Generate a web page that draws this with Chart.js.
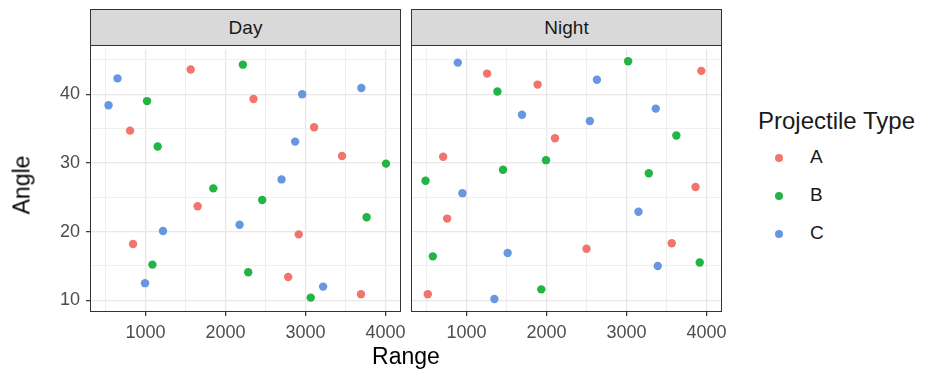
<!DOCTYPE html>
<html>
<head>
<meta charset="utf-8">
<script src="https://cdn.jsdelivr.net/npm/chart.js@4/dist/chart.umd.min.js"></script>
<style>
  body { margin: 0; background: #fff; font-family: "Liberation Sans", Arial, sans-serif; }
  #wrap { position: relative; width: 928px; height: 370px; overflow: hidden; }
  canvas { position: absolute; }
  .strip { position: absolute; top: 9px; height: 35px; background: #d9d9d9; border: 1px solid #333;
           display: flex; align-items: center; justify-content: center; font-size: 19px; color: #1a1a1a; box-sizing: content-box; }
  .frame { position: absolute; top: 45px; height: 265px; border: 1px solid #333; pointer-events: none; }
  .title { position: absolute; color: #000; font-size: 23px; white-space: nowrap; }
  #legend { position: absolute; left: 758px; top: 107px; }
  #legend .head { font-size: 24px; color: #1a1a1a; }
  #legend .item { position: relative; height: 38px; font-size: 19px; color: #1a1a1a; }
  #legend .dot { position: absolute; left: 17px; top: 9px; width: 8px; height: 8px; border-radius: 50%; }
  #legend .lab { position: absolute; left: 52px; top: 1px; }
</style>
</head>
<body>
<div id="wrap">
  <canvas id="day" width="420" height="325" style="left:0px;top:45px;width:420px;height:325px"></canvas>
  <canvas id="night" width="340" height="325" style="left:400px;top:45px;width:340px;height:325px"></canvas>
  <div class="strip" style="left:90px;width:309px">Day</div>
  <div class="strip" style="left:411px;width:309px">Night</div>
  <div class="frame" style="left:90px;width:309px"></div>
  <div class="frame" style="left:411px;width:309px"></div>
  <div class="title" style="left:22px;top:185px;transform:translate(-50%,-50%) rotate(-90deg)">Angle</div>
  <div class="title" style="left:406px;top:356px;transform:translate(-50%,-50%)">Range</div>
  <div id="legend"></div>
</div>
<script>
// values
var typeNames = ['A', 'B', 'C'];
var typeColors = ['#f1756c', '#22b444', '#6797e0'];

var dayRangeA = [1565, 2350, 808, 3107, 3456, 1652, 845, 2915, 2783, 3693];
var dayAngleA = [43.6, 39.3, 34.7, 35.2, 31.0, 23.7, 18.2, 19.6, 13.4, 10.9];
var dayRangeB = [2217, 1020, 1153, 1848, 2459, 4005, 3763, 1087, 2284, 3065];
var dayAngleB = [44.3, 39.0, 32.4, 26.3, 24.6, 29.9, 22.1, 15.2, 14.1, 10.4];
var dayRangeC = [651, 539, 1219, 995, 2176, 2700, 2870, 2958, 3219, 3697];
var dayAngleC = [42.3, 38.4, 20.1, 12.5, 21.0, 27.6, 33.1, 40.0, 12.0, 40.9];

var nightRangeA = [1258, 1889, 3934, 2106, 709, 3862, 759, 2500, 3565, 517];
var nightAngleA = [43.0, 41.4, 43.4, 33.6, 30.9, 26.5, 21.9, 17.5, 18.3, 10.9];
var nightRangeB = [3020, 1387, 3622, 1994, 1457, 3278, 489, 580, 1935, 3914];
var nightAngleB = [44.8, 40.4, 34.0, 30.4, 29.0, 28.5, 27.4, 16.4, 11.6, 15.5];
var nightRangeC = [892, 2630, 1694, 2542, 3365, 950, 3149, 1515, 3390, 1349];
var nightAngleC = [44.6, 42.1, 37.0, 36.1, 37.9, 25.6, 22.9, 16.9, 15.0, 10.2];

var xTicks = [1000, 2000, 3000, 4000];
var xMinor = [500, 1500, 2500, 3500];
var yTicks = [10, 20, 30, 40];
var yMinor = [15, 25, 35, 45];
var xMin = 320, xMax = 4180;
var yMin = 8.45, yMax = 46.55;

function pts(xs, ys) {
  var out = [];
  for (let i = 0; i < xs.length; i++) out.push({x: xs[i], y: ys[i]});
  return out;
}

function sets(ranges, angles) {
  return typeNames.map(function (t, i) {
    return {
      label: t,
      data: pts(ranges[i], angles[i]),
      backgroundColor: typeColors[i],
      borderWidth: 0,
      pointRadius: 4.2,
      pointHoverRadius: 4.2
    };
  });
}

function isMajor(ctx, major) {
  return ctx.tick && major.indexOf(ctx.tick.value) >= 0;
}

function setTicks(major, minor) {
  return function (scale) {
    scale.ticks = major.concat(minor).sort(function (a, b) { return a - b; })
      .map(function (v) { return {value: v}; });
  };
}

var tickFont = {family: '"Liberation Sans", Arial, sans-serif', size: 18};

function axis(min, max, major, minor, fit, showTicks) {
  return {
    type: 'linear', min: min, max: max,
    border: {display: false},
    afterBuildTicks: setTicks(major, minor),
    grid: {
      color: function (ctx) { return isMajor(ctx, major) ? '#e8e8e8' : '#efefef'; },
      lineWidth: function (ctx) { return isMajor(ctx, major) ? 1.3 : 1; },
      tickColor: function (ctx) { return isMajor(ctx, major) ? '#333' : 'rgba(0,0,0,0)'; },
      tickLength: 5, tickWidth: 1.2, drawTicks: showTicks
    },
    ticks: {
      autoSkip: false, maxRotation: 0, display: showTicks, padding: 6,
      color: '#4d4d4d', font: tickFont,
      callback: function (v) { return major.indexOf(v) >= 0 ? String(v) : ''; }
    },
    afterFit: fit
  };
}

function makeChart(id, datasets, showY, pad) {
  return new Chart(document.getElementById(id), {
    type: 'scatter',
    data: {datasets: datasets},
    options: {
      responsive: false,
      animation: false,
      events: [],
      layout: {padding: pad},
      plugins: {legend: {display: false}, tooltip: {enabled: false}},
      scales: {
        x: axis(xMin, xMax, xTicks, xMinor, function (s) { s.height = 59; s.paddingLeft = 0; s.paddingRight = 0; }, true),
        y: axis(yMin, yMax, yTicks, yMinor, function (s) { s.width = showY ? 91 : 0; s.paddingTop = 0; s.paddingBottom = 0; }, showY)
      }
    }
  });
}

var dayChart = makeChart('day', sets([dayRangeA, dayRangeB, dayRangeC], [dayAngleA, dayAngleB, dayAngleC]), true,
  {left: 0, top: 0, right: 20, bottom: 0});
var nightChart = makeChart('night', sets([nightRangeA, nightRangeB, nightRangeC], [nightAngleA, nightAngleB, nightAngleC]), false,
  {left: 12, top: 0, right: 19, bottom: 0});

// legend
var leg = document.getElementById('legend');
var html = '<div class="head">Projectile Type</div><div style="height:10px"></div>';
typeNames.forEach(function (t, i) {
  html += '<div class="item"><span class="dot" style="background:' + typeColors[i] + '"></span><span class="lab">' + t + '</span></div>';
});
leg.innerHTML = html;
</script>
</body>
</html>
